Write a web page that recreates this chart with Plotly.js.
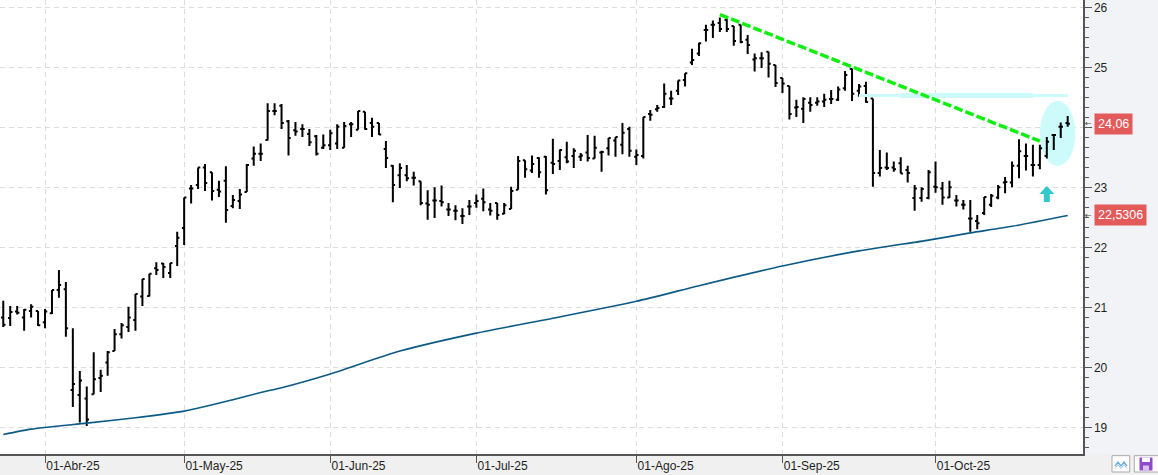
<!DOCTYPE html>
<html>
<head>
<meta charset="utf-8">
<script src="https://cdn.plot.ly/plotly-3.0.1.min.js"></script>
<style>
html,body{margin:0;padding:0;background:#f0f0f0;}
#chart{width:1158px;height:475px;}
</style>
</head>
<body>
<div id="chart"></div>
<script>
// ---- trading days (categories) ----
const dates = [
'2025-03-24','2025-03-25','2025-03-26','2025-03-27','2025-03-28','2025-03-31',
'2025-04-01','2025-04-02','2025-04-03','2025-04-04','2025-04-07','2025-04-08','2025-04-09','2025-04-10','2025-04-11',
'2025-04-14','2025-04-15','2025-04-16','2025-04-17','2025-04-22','2025-04-23','2025-04-24','2025-04-25',
'2025-04-28','2025-04-29','2025-04-30',
'2025-05-02','2025-05-05','2025-05-06','2025-05-07','2025-05-08','2025-05-09','2025-05-12','2025-05-13','2025-05-14',
'2025-05-15','2025-05-16','2025-05-19','2025-05-20','2025-05-21','2025-05-22','2025-05-23','2025-05-26','2025-05-27',
'2025-05-28','2025-05-29','2025-05-30',
'2025-06-02','2025-06-03','2025-06-04','2025-06-05','2025-06-06','2025-06-09','2025-06-10','2025-06-11','2025-06-12',
'2025-06-13','2025-06-16','2025-06-17','2025-06-18','2025-06-19','2025-06-20','2025-06-23','2025-06-24','2025-06-25',
'2025-06-26','2025-06-27','2025-06-30',
'2025-07-01','2025-07-02','2025-07-03','2025-07-04','2025-07-07','2025-07-08','2025-07-09','2025-07-10','2025-07-11',
'2025-07-14','2025-07-15','2025-07-16','2025-07-17','2025-07-18','2025-07-21','2025-07-22','2025-07-23','2025-07-24',
'2025-07-25','2025-07-28','2025-07-29','2025-07-30','2025-07-31',
'2025-08-01','2025-08-04','2025-08-05','2025-08-06','2025-08-07','2025-08-08','2025-08-11','2025-08-12','2025-08-13',
'2025-08-14','2025-08-15','2025-08-18','2025-08-19','2025-08-20','2025-08-21','2025-08-22','2025-08-25','2025-08-26',
'2025-08-27','2025-08-28','2025-08-29',
'2025-09-01','2025-09-02','2025-09-03','2025-09-04','2025-09-05','2025-09-08','2025-09-09','2025-09-10','2025-09-11',
'2025-09-12','2025-09-15','2025-09-16','2025-09-17','2025-09-18','2025-09-19','2025-09-22','2025-09-23','2025-09-24',
'2025-09-25','2025-09-26','2025-09-29','2025-09-30',
'2025-10-01','2025-10-02','2025-10-03','2025-10-06','2025-10-07','2025-10-08','2025-10-09','2025-10-10','2025-10-13',
'2025-10-14','2025-10-15','2025-10-16','2025-10-17','2025-10-20','2025-10-21','2025-10-22','2025-10-23','2025-10-24',
'2025-10-27','2025-10-28'
];

// ---- OHLC series ----
const open = [
20.83,20.82,20.93,20.83,20.94,20.94,
20.75,20.90,21.29,21.30,19.62,19.54,19.48,19.55,19.82,20.08,20.27,20.55,20.67,20.79,21.18,21.19,21.65,21.73,21.57,22.02,
22.32,22.98,23.04,23.33,23.25,22.96,23.11,22.69,22.77,22.92,23.48,23.56,23.79,24.27,24.36,24.10,23.95,23.97,23.89,23.85,23.66,
23.70,23.73,23.66,24.05,23.96,24.26,24.07,24.07,23.64,23.36,23.20,23.20,23.16,23.10,22.73,22.78,22.77,22.63,22.61,22.52,22.68,
22.74,22.81,22.63,22.74,22.56,22.64,22.96,23.45,23.28,23.49,23.51,23.41,23.44,23.50,23.52,23.51,23.58,23.48,23.58,23.65,23.78,23.71,23.97,
23.51,23.52,24.22,24.30,24.34,24.48,24.61,24.79,25.08,25.23,25.62,25.71,25.74,25.79,25.69,25.71,25.46,25.13,25.15,25.26,25.04,
24.82,24.69,24.33,24.31,24.41,24.41,24.43,24.47,24.46,24.65,24.97,24.61,24.69,24.48,23.24,23.33,23.33,23.40,23.29,22.82,22.82,22.82,
23.01,22.98,22.83,22.78,22.71,22.48,22.44,22.57,22.71,22.83,23.08,23.08,23.36,23.52,23.37,23.37,23.52,23.87,24.01,24.07
];
const high = [
21.11,21.02,21.02,20.97,21.05,20.94,
20.97,21.29,21.62,21.42,20.65,19.94,19.68,20.25,19.96,20.27,20.64,20.74,21.01,21.22,21.47,21.56,21.75,21.74,21.74,22.26,
22.83,23.04,23.33,23.39,23.25,23.11,23.35,22.87,22.97,23.39,23.68,23.73,24.40,24.40,24.39,24.12,24.09,24.05,23.97,23.87,23.88,
23.96,24.05,24.09,24.09,24.27,24.26,24.16,24.07,23.77,23.37,23.40,23.37,23.26,23.10,22.95,23.00,23.03,22.74,22.70,22.65,22.79,
22.88,22.98,22.74,22.74,22.74,23.01,23.52,23.45,23.53,23.50,23.52,23.81,23.63,23.76,23.65,23.57,23.87,23.86,23.61,23.82,23.84,24.07,24.01,
23.63,24.17,24.29,24.37,24.73,24.61,24.78,24.90,25.31,25.41,25.71,25.78,25.83,25.83,25.69,25.71,25.54,25.23,25.25,25.26,25.04,
24.82,24.69,24.46,24.50,24.50,24.50,24.56,24.62,24.68,24.94,24.98,24.72,24.76,24.48,23.62,23.58,23.43,23.50,23.36,23.04,23.00,23.29,
23.43,23.09,23.11,22.87,22.79,22.79,22.54,22.84,22.89,23.04,23.17,23.43,23.80,23.73,23.71,23.71,23.84,23.89,24.08,24.19
];
const low = [
20.67,20.69,20.88,20.61,20.83,20.69,
20.65,20.89,21.16,20.51,19.34,19.08,19.02,19.55,19.59,19.86,20.27,20.48,20.59,20.61,21.02,21.18,21.54,21.49,21.49,21.69,
22.04,22.73,22.97,22.94,22.78,22.84,22.41,22.65,22.64,22.92,23.36,23.44,23.78,24.20,23.97,23.53,23.86,23.84,23.69,23.53,23.64,
23.62,23.64,23.66,23.84,23.96,23.96,23.84,23.87,23.32,22.75,22.99,23.10,23.03,22.70,22.46,22.49,22.68,22.52,22.45,22.39,22.54,
22.66,22.60,22.53,22.46,22.55,22.64,22.96,23.16,23.24,23.16,22.88,23.22,23.29,23.40,23.32,23.44,23.43,23.48,23.26,23.53,23.51,23.55,23.51,
23.37,23.48,24.11,24.26,24.32,24.37,24.54,24.68,25.04,25.19,25.43,25.49,25.59,25.59,25.36,25.40,25.22,24.93,24.99,24.83,24.67,
24.57,24.13,24.17,24.07,24.26,24.36,24.34,24.39,24.44,24.61,24.44,24.51,24.41,23.01,23.18,23.29,23.26,23.23,23.08,22.61,22.76,22.80,
22.91,22.71,22.82,22.68,22.63,22.26,22.30,22.54,22.67,22.80,22.90,23.00,23.15,23.28,23.18,23.30,23.48,23.62,23.82,24.01
];
const close = [
20.71,20.92,20.91,20.96,21.01,20.70,
20.93,21.29,21.37,20.65,19.72,19.78,19.13,19.80,19.86,20.25,20.55,20.70,20.83,21.22,21.47,21.56,21.62,21.67,21.74,22.16,
22.83,22.98,23.33,23.07,22.94,22.93,22.62,22.79,22.88,23.37,23.56,23.56,24.27,24.27,24.07,23.82,23.93,23.97,23.75,23.56,23.70,
23.90,24.01,24.02,24.05,24.27,23.97,24.01,23.88,23.49,23.04,23.32,23.15,23.16,22.74,22.71,22.78,22.75,22.63,22.61,22.52,22.68,
22.77,22.75,22.61,22.54,22.70,22.94,23.44,23.30,23.39,23.25,22.95,23.39,23.62,23.43,23.61,23.53,23.49,23.66,23.59,23.82,23.84,23.91,23.61,
23.54,24.17,24.21,24.32,24.56,24.48,24.78,24.90,25.12,25.40,25.62,25.71,25.64,25.64,25.44,25.42,25.37,25.15,25.15,25.06,24.74,
24.73,24.22,24.34,24.47,24.37,24.43,24.46,24.47,24.63,24.87,24.56,24.68,24.42,23.24,23.32,23.32,23.30,23.23,23.24,22.98,22.97,23.25,
23.00,22.83,23.00,22.78,22.71,22.48,22.40,22.84,22.86,23.00,23.09,23.36,23.60,23.52,23.37,23.65,23.76,23.87,24.01,24.06
];

// ---- moving average (read at sampled sessions) ----
const maDates = ['2025-03-24','2025-03-28','2025-04-09','2025-04-22','2025-05-02','2025-05-13','2025-05-19','2025-05-22',
  '2025-06-02','2025-06-16','2025-07-01','2025-07-17','2025-08-01','2025-08-14','2025-09-01','2025-09-16','2025-09-30',
  '2025-10-08','2025-10-16','2025-10-28'];
const maValues = [18.88,18.97,19.07,19.16,19.27,19.46,19.58,19.66,
  19.89,20.27,20.57,20.84,21.10,21.36,21.69,21.94,22.12,
  22.24,22.35,22.5306];

// ---- drawn lines ----
const trendDates = ['2025-08-19','2025-10-22'];
const trendValues = [25.88, 23.77];
const resistDates = ['2025-09-16','2025-10-28'];
const resistCoreDates = ['2025-09-24','2025-10-21'];
const resistValue = 24.53;

// ---- axis ticks ----
const tickDates = ['2025-04-01','2025-05-02','2025-06-02','2025-07-01','2025-08-01','2025-09-01','2025-10-01'];
const tickLabels = ['01-Abr-25','01-May-25','01-Jun-25','01-Jul-25','01-Ago-25','01-Sep-25','01-Oct-25'];
const yTicks = [19,20,21,22,23,24,25,26];
// "24" sits under the last-price badge in the reference, so its label is hidden there
const yTickLabels = ['19','20','21','22','23','','25','26'];

const FONT = "'Segoe UI', 'Liberation Sans', Arial, sans-serif";

const traces = [
  {type:'scatter', mode:'lines', x:resistDates, y:resistDates.map(()=>resistValue),
   line:{color:'#cdfafa', width:3}, hoverinfo:'skip', showlegend:false},
  {type:'scatter', mode:'lines', x:resistCoreDates, y:resistCoreDates.map(()=>resistValue),
   line:{color:'#cdfafa', width:5}, hoverinfo:'skip', showlegend:false},
  {type:'scatter', mode:'lines', x:maDates, y:maValues,
   line:{color:'#0b5a86', width:1.6, shape:'spline', smoothing:0.6}, hoverinfo:'skip', showlegend:false},
  {type:'ohlc', x:dates, open:open, high:high, low:low, close:close,
   increasing:{line:{color:'#000000', width:2}}, decreasing:{line:{color:'#000000', width:2}},
   tickwidth:0.32, hoverinfo:'skip', showlegend:false},
  {type:'scatter', mode:'lines', x:trendDates, y:trendValues,
   line:{color:'#12ee12', width:3.5, dash:'9px,3px'}, hoverinfo:'skip', showlegend:false}
];

const lastClose = close[close.length-1];
const lastMA = maValues[maValues.length-1];
const PW = 1083;

const layout = {
  width:1158, height:475,
  margin:{l:0, r:75, t:0, b:21, pad:0},
  paper_bgcolor:'#f0f0f0',
  plot_bgcolor:'#ffffff',
  showlegend:false,
  hovermode:false,
  font:{family:FONT, size:12, color:'#1e1e1e'},
  xaxis:{
    type:'category', categoryorder:'array', categoryarray:dates,
    range:[-0.47, 155.2],
    rangeslider:{visible:false},
    tickmode:'array', tickvals:tickDates, ticktext:tickLabels,
    ticklabelposition:'outside right',
    ticks:'outside', ticklen:7, tickwidth:1, tickcolor:'#555555',
    showline:true, linecolor:'#555555', linewidth:1.5,
    showgrid:true, gridcolor:'#dcdcdc', gridwidth:1, griddash:'5px,4px',
    zeroline:false, fixedrange:true,
    tickfont:{family:FONT, size:12, color:'#1e1e1e'}
  },
  yaxis:{
    side:'right', range:[18.555, 26.122],
    tickmode:'array', tickvals:yTicks, ticktext:yTickLabels,
    ticks:'outside', ticklen:7, tickwidth:1, tickcolor:'#555555',
    ticklabelstandoff:0,
    minor:{dtick:1/6, tick0:0, ticks:'outside', ticklen:4, tickcolor:'#555555', showgrid:false},
    showline:true, linecolor:'#555555', linewidth:1.5,
    showgrid:true, gridcolor:'#dcdcdc', gridwidth:1, griddash:'5px,4px',
    zeroline:false, fixedrange:true,
    tickfont:{family:FONT, size:12, color:'#1e1e1e'}
  },
  shapes:[
    {type:'rect', xref:'paper', yref:'paper', x0:1, x1:1.08, y0:0, y1:1,
     fillcolor:'#f1f3f6', line:{width:0}, layer:'below'},
    {type:'circle', xref:'x', yref:'y', x0:149.0, x1:154.1, y0:23.355, y1:24.44,
     fillcolor:'#cdfbfb', line:{width:0}, layer:'between'},
    {type:'path', xref:'x', yref:'y', xsizemode:'pixel', ysizemode:'pixel', xanchor:150, yanchor:23.02,
     path:'M0,0 L7.5,-8 L3,-8 L3,-16 L-3,-16 L-3,-8 L-7.5,-8 Z',
     fillcolor:'#33c9cc', line:{width:0}, layer:'above'},
    // bottom-right buttons
    {type:'rect', xref:'paper', yref:'paper', xsizemode:'pixel', ysizemode:'pixel', xanchor:1, yanchor:0,
     x0:29, x1:46.7, y0:-1.7, y1:-18, fillcolor:'#ffffff', line:{color:'#a8a8a8', width:1}},
    {type:'path', xref:'paper', yref:'paper', xsizemode:'pixel', ysizemode:'pixel', xanchor:1, yanchor:0,
     path:'M32,-12 L35,-8 L38,-12 L41,-8 L44,-12', line:{color:'#6aaee0', width:1.3}},
    {type:'path', xref:'paper', yref:'paper', xsizemode:'pixel', ysizemode:'pixel', xanchor:1, yanchor:0,
     path:'M32,-14.5 L35,-10.5 L38,-14.5 L41,-10.5 L44,-14.5', line:{color:'#9cc8ea', width:1}},
    {type:'rect', xref:'paper', yref:'paper', xsizemode:'pixel', ysizemode:'pixel', xanchor:1, yanchor:0,
     x0:51.3, x1:76, y0:-1.7, y1:-18, fillcolor:'#ffffff', line:{color:'#a8a8a8', width:1}},
    {type:'rect', xref:'paper', yref:'paper', xsizemode:'pixel', ysizemode:'pixel', xanchor:1, yanchor:0,
     x0:56.5, x1:69.5, y0:-3.5, y1:-16.5, fillcolor:'#8e4ac8', line:{width:0}},
    {type:'rect', xref:'paper', yref:'paper', xsizemode:'pixel', ysizemode:'pixel', xanchor:1, yanchor:0,
     x0:59, x1:67, y0:-3.5, y1:-8, fillcolor:'#ffffff', line:{width:0}},
    {type:'rect', xref:'paper', yref:'paper', xsizemode:'pixel', ysizemode:'pixel', xanchor:1, yanchor:0,
     x0:60, x1:66, y0:-11.5, y1:-16.5, fillcolor:'#d9c2ef', line:{width:0}}
  ],
  annotations:[
    {xref:'paper', yref:'y', x:1094/PW, y:lastClose, xanchor:'left', yanchor:'middle',
     text:lastClose.toFixed(2).replace('.',','), showarrow:false,
     bgcolor:'#e35a5a', borderpad:3, font:{family:FONT, size:12.5, color:'#ffffff'}},
    {xref:'paper', yref:'y', x:1094/PW, y:lastMA, xanchor:'left', yanchor:'middle',
     text:lastMA.toFixed(4).replace('.',','), showarrow:false,
     bgcolor:'#e35a5a', borderpad:3, font:{family:FONT, size:12.5, color:'#ffffff'}},
    {xref:'paper', yref:'y', x:1092.5/PW, y:lastClose, xanchor:'right', yanchor:'middle',
     text:'←', showarrow:false, borderpad:0, font:{family:'DejaVu Sans', size:8, color:'#444444'}},
    {xref:'paper', yref:'y', x:1092.5/PW, y:lastMA, xanchor:'right', yanchor:'middle',
     text:'←', showarrow:false, borderpad:0, font:{family:'DejaVu Sans', size:8, color:'#444444'}}
  ]
};

Plotly.newPlot('chart', traces, layout, {displayModeBar:false, staticPlot:true});
</script>
</body>
</html>
